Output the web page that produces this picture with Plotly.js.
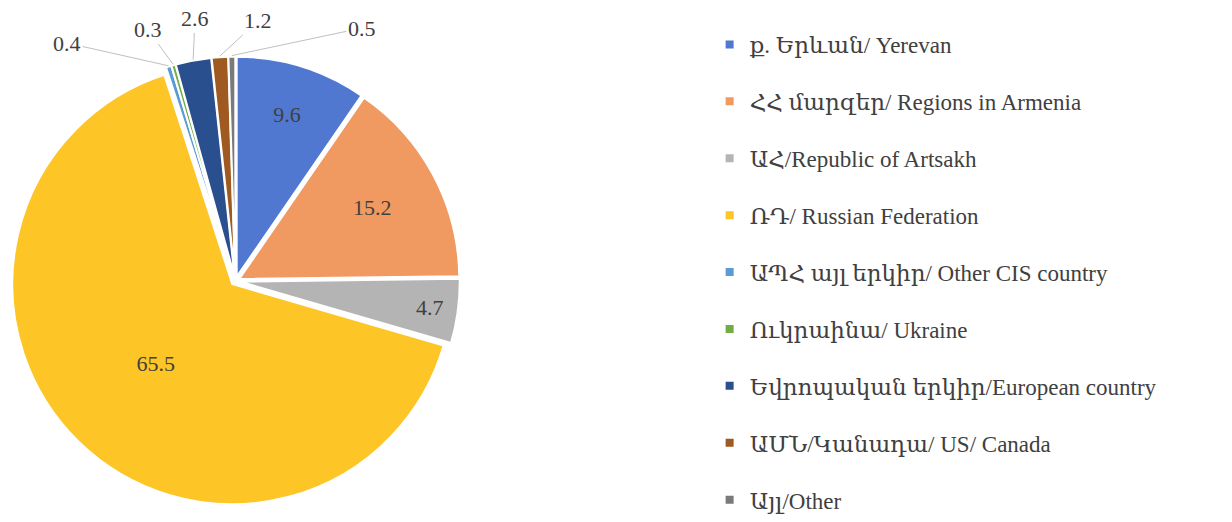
<!DOCTYPE html>
<html>
<head>
<meta charset="utf-8">
<script src="https://cdn.plot.ly/plotly-3.0.1.min.js"></script>
<style>html,body{margin:0;padding:0;background:#fff;}#chart{width:1232px;height:522px;}</style>
</head>
<body>
<div id="chart"></div>
<script>
const labels = [
  "ք. Երևան/ Yerevan",
  "ՀՀ մարզեր/ Regions in Armenia",
  "ԱՀ/Republic of Artsakh",
  "ՌԴ/ Russian Federation",
  "ԱՊՀ այլ երկիր/ Other CIS country",
  "Ուկրաինա/ Ukraine",
  "Եվրոպական երկիր/European country",
  "ԱՄՆ/Կանադա/ US/ Canada",
  "Այլ/Other"
];
const values = [9.6, 15.2, 4.7, 65.5, 0.4, 0.3, 2.6, 1.2, 0.5];
const colors = ["#5078d0", "#f09a62", "#b4b4b4", "#fdc526", "#5b9bd5", "#70ad47", "#2a4f8f", "#9e5a20", "#7a7a7a"];
const textPos = ["inside", "inside", "inside", "inside", "none", "none", "none", "none", "none"];
// label positions (px) for the small slices' outside labels, in slice order
const outsideLabelPx = {4: [67, 43], 5: [148, 30], 6: [195, 19], 7: [258, 21], 8: [362, 28]};

const W = 1232, H = 522;
const FONT = "Liberation Serif, DejaVu Serif, serif";
const PULL = 0.02;
const DOM = {x: [0.0089, 0.3732], y: [0.0317, 0.8917]};

const pie = {
  type: "pie",
  labels: labels,
  values: values,
  sort: false,
  direction: "clockwise",
  rotation: 0,
  pull: values.map(() => PULL),
  marker: {colors: colors, line: {color: "#ffffff", width: 2}},
  textinfo: "value",
  texttemplate: "%{value}",
  textposition: textPos,
  insidetextorientation: "horizontal",
  textfont: {family: FONT, size: 22, color: "#404040"},
  showlegend: false,
  domain: DOM,
  hoverinfo: "label+value"
};

const legendTraces = labels.map((lab, i) => ({
  type: "scatter",
  mode: "markers",
  x: [null], y: [null],
  name: lab,
  legendgroup: "g" + i,
  marker: {symbol: "square", size: 8, color: colors[i]},
  showlegend: true,
  hoverinfo: "skip"
}));

const layout = {
  width: W, height: H,
  margin: {l: 0, r: 0, t: 0, b: 0},
  paper_bgcolor: "#ffffff",
  plot_bgcolor: "#ffffff",
  xaxis: {visible: false},
  yaxis: {visible: false},
  showlegend: true,
  legend: {
    x: 0.576, xanchor: "left",
    y: 0.95, yanchor: "top",
    font: {family: FONT, size: 23, color: "#404040"},
    tracegroupgap: 24,
    itemwidth: 30,
    bgcolor: "rgba(0,0,0,0)"
  }
};

Plotly.newPlot("chart", [pie].concat(legendTraces), layout, {displayModeBar: false, staticPlot: true}).then(gd => {
  const cd = gd.calcdata[0];
  const cd0 = cd[0];
  const rx = W * (DOM.x[1] - DOM.x[0]) / 2, ry = H * (DOM.y[1] - DOM.y[0]) / 2;
  const r = (cd0.r !== undefined) ? cd0.r : Math.min(rx, ry) / (1 + PULL);
  const cx = (cd0.cx !== undefined) ? cd0.cx : W * (DOM.x[0] + DOM.x[1]) / 2;
  const cy = (cd0.cy !== undefined) ? cd0.cy : H * (1 - (DOM.y[0] + DOM.y[1]) / 2);
  const total = values.reduce((a, b) => a + b, 0);
  let cum = 0;
  const anns = [];
  values.forEach((v, i) => {
    const mid = (cum + v / 2) / total * 2 * Math.PI;
    cum += v;
    if (!outsideLabelPx[i]) return;
    const R = r * (1 + PULL) + 1;
    const px = cx + R * Math.sin(mid);
    const py = cy - R * Math.cos(mid);
    const [lx, ly] = outsideLabelPx[i];
    anns.push({
      xref: "paper", yref: "paper",
      x: px / W, y: 1 - py / H,
      ax: lx - px, ay: ly - py,
      text: String(v),
      showarrow: true, arrowhead: 0, arrowwidth: 1, arrowcolor: "#bfbfbf",
      standoff: 0, startstandoff: 0,
      font: {family: FONT, size: 22, color: "#404040"}
    });
  });
  return Plotly.relayout(gd, {annotations: anns});
});
</script>
</body>
</html>
